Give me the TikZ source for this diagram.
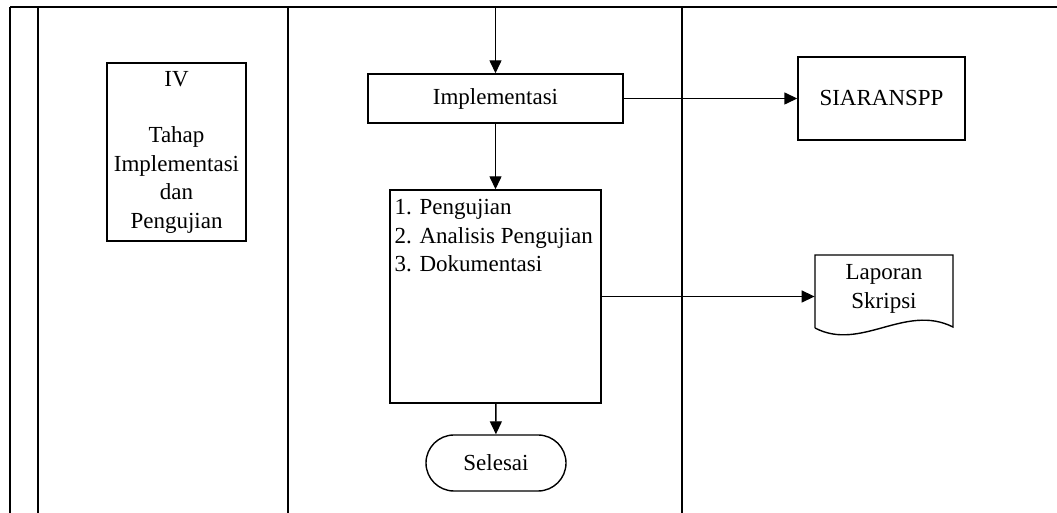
\documentclass[tikz,border=0pt]{standalone}
\usepackage{fontspec}
\setmainfont{Liberation Serif}
\usetikzlibrary{arrows.meta,shapes.misc}
\begin{document}
\begin{tikzpicture}[x=0.5pt,y=-0.5pt,
  font=\fontsize{11.5}{14.25}\selectfont,
  box/.style={draw,line width=0.7pt,inner sep=0pt,align=center},
  arr/.style={line width=0.7pt,-{Triangle[length=6.5pt,width=6pt]}},
  lane/.style={line width=0.9pt}]
  \useasboundingbox (0,0) rectangle (1057,513);
  % swimlane borders
  \draw[lane] (10,7) -- (1057,7);
  \foreach \lx in {10,38,288,682}
    \draw[lane] (\lx,7) -- (\lx,513);
  % phase label
  \node[box,minimum width=69.5pt,minimum height=89pt] (tahap) at (176.5,152)
    {IV\\[14pt]Tahap\\Implementasi\\dan\\Pengujian};
  % process column
  \coordinate (masuk) at (495.5,7);
  \node[box,minimum width=127.5pt,minimum height=24.5pt] (impl) at (495.5,98.5) {Implementasi};
  \node[box,minimum width=105.5pt,minimum height=106.5pt] (uji) at (495.5,296.5) {};
  \node[anchor=north west,align=left,inner xsep=2.5pt,inner ysep=5pt] (ujitext) at (uji.north west)
    {1. Pengujian\\2. Analisis Pengujian\\3. Dokumentasi};
  \node[box,rounded rectangle,minimum width=70pt,minimum height=28pt] (selesai) at (496,463) {Selesai};
  % outputs
  \node[box,minimum width=83.5pt,minimum height=41.5pt] (siar) at (881.5,98.5) {SIARANSPP};
  \node[inner sep=0pt,minimum width=69pt,minimum height=36.5pt,align=center] (lap) at (884,289)
    {Laporan\\Skripsi};
  \draw[line width=0.7pt] (815,328) -- (815,255) -- (953,255) -- (953,327)
    .. controls (905,303) and (861,352) .. (815,328);
  % connectors
  \draw[arr] (masuk) -- (impl);
  \draw[arr] (impl) -- (uji);
  \draw[arr] (uji) -- (selesai);
  \draw[arr] (impl) -- (siar);
  \draw[arr] (uji.east) -- (uji.east -| lap.west);
\end{tikzpicture}
\end{document}
